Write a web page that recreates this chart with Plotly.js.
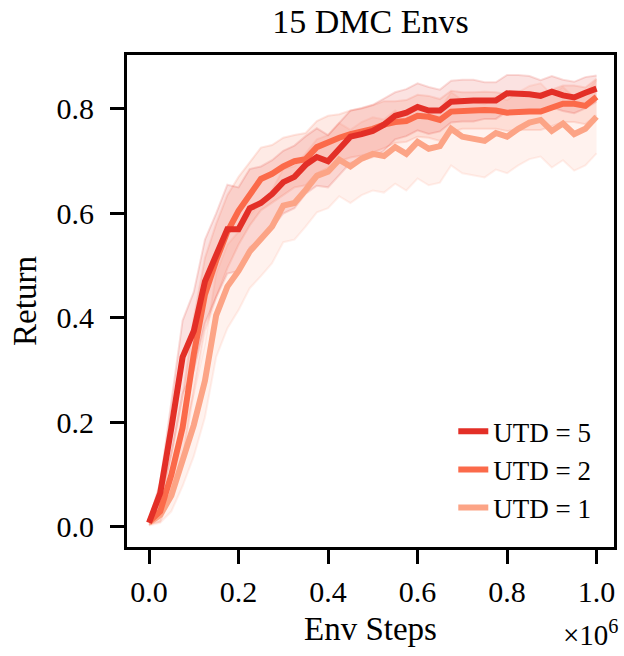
<!DOCTYPE html>
<html>
<head>
<meta charset="utf-8">
<script src="https://cdn.plot.ly/plotly-3.0.1.min.js"></script>
<style>
  html, body { margin: 0; padding: 0; background: #fff; }
  #chart { width: 624px; height: 656px; }
</style>
</head>
<body>
<div id="chart"></div>
<script>
// env steps, in units of 1e6
const steps = [0, 0.025, 0.05, 0.075, 0.1, 0.125, 0.15, 0.175, 0.2, 0.225,
  0.25, 0.275, 0.3, 0.325, 0.35, 0.375, 0.4, 0.425, 0.45, 0.475,
  0.5, 0.525, 0.55, 0.575, 0.6, 0.625, 0.65, 0.675, 0.7, 0.725,
  0.75, 0.775, 0.8, 0.825, 0.85, 0.875, 0.9, 0.925, 0.95, 0.975, 1.0];

const utd5 = [0.008, 0.065, 0.19, 0.325, 0.375, 0.47, 0.52, 0.57, 0.57, 0.61,
  0.62, 0.637, 0.66, 0.67, 0.693, 0.708, 0.70, 0.724, 0.747, 0.752,
  0.758, 0.77, 0.787, 0.793, 0.804, 0.797, 0.797, 0.814, 0.816, 0.816,
  0.816, 0.816, 0.83, 0.83, 0.828, 0.825, 0.833, 0.826, 0.822, 0.831, 0.839];
const utd2 = [0.01, 0.03, 0.10, 0.19, 0.33, 0.445, 0.51, 0.565, 0.605, 0.637,
  0.666, 0.676, 0.69, 0.70, 0.704, 0.727, 0.737, 0.745, 0.752, 0.756,
  0.762, 0.77, 0.775, 0.777, 0.787, 0.785, 0.779, 0.795, 0.797, 0.797,
  0.798, 0.797, 0.793, 0.795, 0.795, 0.795, 0.802, 0.81, 0.81, 0.806, 0.823];
const utd1 = [0.008, 0.023, 0.06, 0.128, 0.195, 0.28, 0.405, 0.46, 0.49, 0.527,
  0.55, 0.575, 0.615, 0.62, 0.645, 0.672, 0.68, 0.703, 0.69, 0.705,
  0.714, 0.71, 0.727, 0.714, 0.737, 0.724, 0.729, 0.762, 0.747, 0.743,
  0.739, 0.754, 0.747, 0.762, 0.774, 0.779, 0.758, 0.772, 0.752, 0.762, 0.785];

// half widths of the shaded bands
const err5 = [0.005, 0.02, 0.05, 0.07, 0.075, 0.08, 0.08, 0.085, 0.08, 0.075,
  0.07, 0.065, 0.06, 0.06, 0.055, 0.055, 0.05, 0.05, 0.05, 0.05,
  0.05, 0.05, 0.045, 0.045, 0.045, 0.045, 0.04, 0.04, 0.04, 0.04,
  0.035, 0.035, 0.035, 0.035, 0.035, 0.03, 0.03, 0.03, 0.03, 0.03, 0.025];
const err2 = [0.005, 0.02, 0.04, 0.06, 0.07, 0.07, 0.07, 0.07, 0.065, 0.06,
  0.06, 0.055, 0.055, 0.05, 0.05, 0.05, 0.05, 0.045, 0.045, 0.045,
  0.045, 0.045, 0.04, 0.04, 0.04, 0.04, 0.04, 0.04, 0.035, 0.035,
  0.035, 0.035, 0.035, 0.035, 0.035, 0.035, 0.035, 0.035, 0.035, 0.035, 0.035];
const err1 = [0.005, 0.015, 0.03, 0.05, 0.06, 0.07, 0.08, 0.08, 0.075, 0.07,
  0.07, 0.07, 0.07, 0.07, 0.07, 0.07, 0.07, 0.07, 0.07, 0.07,
  0.07, 0.07, 0.07, 0.07, 0.07, 0.07, 0.07, 0.07, 0.07, 0.07,
  0.07, 0.07, 0.07, 0.07, 0.07, 0.07, 0.07, 0.07, 0.07, 0.07, 0.07];

const labels = ["UTD = 1", "UTD = 2", "UTD = 5"];
const colors = ["252,164,134", "251,106,74", "227,47,39"];
const means = [utd1, utd2, utd5];
const errs = [err1, err2, err5];

const serif = "Liberation Serif, Times New Roman, serif";
const traces = [];

// shaded bands first
means.forEach((m, k) => {
  const c = colors[k];
  traces.push({
    x: steps, y: m.map((v, i) => v + errs[k][i]),
    type: "scatter", mode: "lines", hoverinfo: "skip", showlegend: false,
    line: { color: `rgba(${c},0.16)`, width: 2 },
  });
  traces.push({
    x: steps, y: m.map((v, i) => v - errs[k][i]),
    type: "scatter", mode: "lines", hoverinfo: "skip", showlegend: false,
    fill: "tonexty", fillcolor: `rgba(${c},0.14)`,
    line: { color: `rgba(${c},0.16)`, width: 2 },
  });
});

// mean lines on top
means.forEach((m, k) => {
  traces.push({
    x: steps, y: m, name: labels[k],
    type: "scatter", mode: "lines",
    line: { color: `rgb(${colors[k]})`, width: 6 },
  });
});

const axisBase = {
  showline: true, mirror: true, linewidth: 3, linecolor: "#000",
  ticks: "outside", ticklen: 14, tickwidth: 3, tickcolor: "#000",
  showgrid: false, zeroline: false, tickformat: ".1f",
  tickfont: { family: serif, size: 30, color: "#000" },
};

const layout = {
  width: 624, height: 656,
  margin: { l: 127, r: 10, t: 55, b: 109 },
  paper_bgcolor: "#fff", plot_bgcolor: "#fff",
  font: { family: serif, color: "#000" },
  title: {
    text: "15 DMC Envs", font: { family: serif, size: 34, color: "#000" },
    x: 0.5, xref: "paper", xanchor: "center", y: 0.968, yanchor: "middle",
  },
  xaxis: {
    ...axisBase, range: [-0.0492, 1.039], tickvals: [0, 0.2, 0.4, 0.6, 0.8, 1.0],
    ticklabelstandoff: 2,
    title: { text: "Env Steps", font: { family: serif, size: 33, color: "#000" }, standoff: 10 },
  },
  yaxis: {
    ...axisBase, range: [-0.0383, 0.9033], tickvals: [0, 0.2, 0.4, 0.6, 0.8],
    ticklabelstandoff: 10,
    title: { text: "Return", font: { family: serif, size: 33, color: "#000" }, standoff: 10 },
  },
  legend: {
    x: 0.67, y: 0.284, xanchor: "left", yanchor: "top",
    traceorder: "reversed", bgcolor: "rgba(0,0,0,0)",
    font: { family: serif, size: 27, color: "#000" },
  },
  annotations: [{
    text: "×10<sup>6</sup>", xref: "paper", yref: "paper",
    x: 1.015, y: -0.175, xanchor: "right", yanchor: "middle", showarrow: false,
    font: { family: serif, size: 29, color: "#000" },
  }],
};

Plotly.newPlot("chart", traces, layout, { displayModeBar: false, staticPlot: true });
</script>
</body>
</html>
